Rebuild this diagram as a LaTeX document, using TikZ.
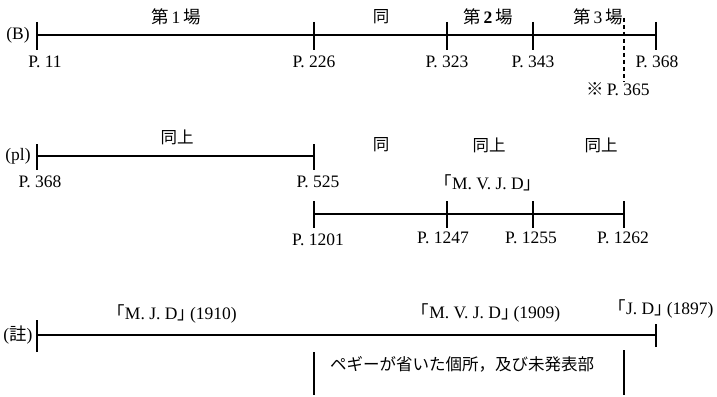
\documentclass[tikz,border=0pt]{standalone}
\usepackage{fontspec}
\setmainfont{Liberation Serif}
\newfontfamily\cjk{Noto Sans CJK JP}
\newcommand\jlq{{\cjk\kern-0.45em「}}
\newcommand\jrq{{\cjk 」\kern-0.45em}}
\tikzset{
  axisline/.style={line width=1.6pt},
  tickline/.style={line width=1.6pt},
  lbl/.style={font=\fontsize{17.5}{20}\selectfont, inner sep=0pt, anchor=center},
  jlbl/.style={font=\cjk\fontsize{16.5}{18}\selectfont, inner sep=0pt, anchor=center},
}
\begin{document}
\begin{tikzpicture}[x=1pt,y=-1pt]
\useasboundingbox (0,0) rectangle (717,396);
% ---------- Row (B) ----------
\coordinate (b0) at (37,35);
\coordinate (b1) at (314,35);
\coordinate (b2) at (447,35);
\coordinate (b3) at (533,35);
\coordinate (b4) at (656,35);
\draw[axisline] (b0) -- (b4);
\foreach \c in {b0,b1,b2,b3,b4}{
  \draw[tickline] ([yshift=13pt]\c) -- ([yshift=-15pt]\c);
}
\coordinate (d0) at (624,18);
\coordinate (d1) at (624,82);
\draw[line width=1.1pt, dash pattern=on 4pt off 3pt] (d0) -- (d1);
\node[lbl] (lB) at (18,35) {(B)};
\node[lbl] (p11) at (45,62) {P. 11};
\node[lbl] (p226) at (314,62) {P. 226};
\node[lbl] (p323) at (447,62) {P. 323};
\node[lbl] (p343) at (533,62) {P. 343};
\node[lbl] (p368a) at (657,62) {P. 368};
\node[lbl] (p365) at (618,89) {{\cjk ※}\,P. 365};
\node[lbl] (s1) at (176,17) {{\cjk 第}\,1\,{\cjk 場}};
\node[jlbl] (s1b) at (381,17) {同};
\node[lbl] (s2) at (488,17) {{\cjk 第}\,\textbf{2}\,{\cjk 場}};
\node[lbl] (s3) at (598,17) {{\cjk 第}\,3\,{\cjk 場}};
% ---------- Row (pl) ----------
\coordinate (q0) at (37,156);
\coordinate (q1) at (314,156);
\draw[axisline] (q0) -- (q1);
\foreach \c in {q0,q1}{
  \draw[tickline] ([yshift=12pt]\c) -- ([yshift=-14pt]\c);
}
\node[lbl] (lpl) at (18,156) {(pl)};
\node[lbl] (p368b) at (40,182) {P. 368};
\node[lbl] (p525) at (318,182) {P. 525};
\node[jlbl] (t1) at (177,137) {同上};
\node[jlbl] (t2) at (381,145) {同};
\node[jlbl] (t3) at (489,145) {同上};
\node[jlbl] (t4) at (601,145) {同上};
\node[lbl] (mvjd) at (488,183) {\jlq M. V. J. D\jrq};
\coordinate (r0) at (314,214);
\coordinate (r1) at (447,214);
\coordinate (r2) at (533,214);
\coordinate (r3) at (624,214);
\draw[axisline] (r0) -- (r3);
\foreach \c in {r0,r1,r2,r3}{
  \draw[tickline] ([yshift=13pt]\c) -- ([yshift=-14pt]\c);
}
\node[lbl] (p1201) at (318,240) {P. 1201};
\node[lbl] (p1247) at (443,238) {P. 1247};
\node[lbl] (p1255) at (531,238) {P. 1255};
\node[lbl] (p1262) at (623,238) {P. 1262};
% ---------- Row (註) ----------
\coordinate (n0) at (37,335);
\coordinate (n1) at (314,335);
\coordinate (n2) at (624,335);
\coordinate (n3) at (656,335);
\draw[axisline] (n0) -- (n3);
\draw[tickline] ([yshift=-17pt]n0) -- ([yshift=15pt]n0);
\coordinate (n1b) at (314,395);
\coordinate (n2b) at (624,395);
\draw[tickline] ([yshift=-17pt]n1) -- (n1b);
\draw[tickline] ([yshift=-15pt]n2) -- (n2b);
\draw[tickline] ([yshift=-12pt]n3) -- ([yshift=11pt]n3);
\node[lbl] (lnote) at (18,335) {({\cjk 註})};
\node[lbl] (mjd) at (176,314) {\jlq M. J. D\jrq\,(1910)};
\node[lbl] (mvjd2) at (490,313) {\jlq M. V. J. D\jrq\,(1909)};
\node[lbl] (jd) at (665,309) {\jlq J. D\jrq\,(1897)};
\node[jlbl] (peg) at (462,364) {ペギーが省いた個所，及び未発表部};
\end{tikzpicture}
\end{document}
